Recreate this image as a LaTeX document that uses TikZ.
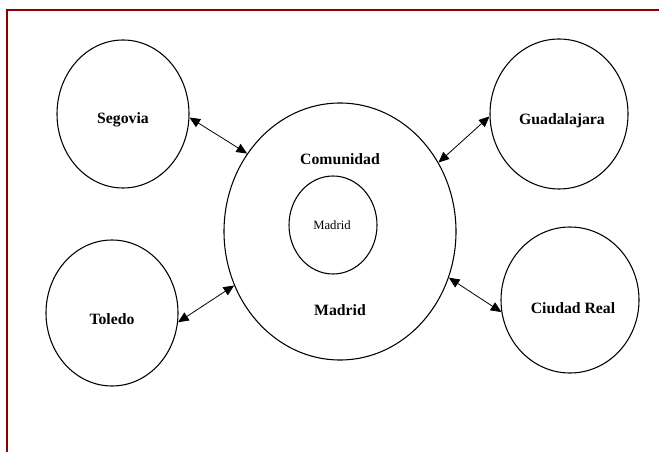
\documentclass[tikz,border=0pt]{standalone}
\usepackage{fontspec}
\setmainfont{Liberation Serif}
\usetikzlibrary{shapes.geometric,arrows.meta}
\definecolor{framered}{RGB}{139,0,0}
\tikzset{
  region/.style={draw=black, line width=0.8pt, ellipse, inner sep=0pt},
  lab/.style={font=\fontsize{11.8}{13}\selectfont\bfseries, inner sep=0pt},
  smalllab/.style={font=\fontsize{9.5}{11}\selectfont, inner sep=0pt},
  link/.style={line width=0.6pt, {Triangle[length=8pt,width=7pt]}-{Triangle[length=8pt,width=7pt]}}
}
\begin{document}
\begin{tikzpicture}[x=0.75pt,y=-0.75pt]
\useasboundingbox (0,0) rectangle (659,452);
\clip (0,0) rectangle (659,452);
\fill[white] (0,0) rectangle (659,452);
\draw[framered, line width=1.6pt] (680,10) -- (7,10) -- (7,480);
% regions
\node[region, minimum width=99pt, minimum height=111pt] (seg) at (123,114) {};
\node[region, minimum width=99pt, minimum height=109.5pt] (tol) at (112,313) {};
\node[region, minimum width=103.5pt, minimum height=112.5pt] (gua) at (559,114) {};
\node[region, minimum width=103.5pt, minimum height=109.5pt] (ciu) at (570,300) {};
\node[region, minimum width=174pt, minimum height=192.75pt] (com) at (340,231.5) {};
\node[region, minimum width=66pt, minimum height=73.5pt] (mad) at (333,225) {};
% labels
\node[lab] (tseg) at (123,120) {Segovia};
\node[lab] (ttol) at (112,319) {Toledo};
\node[lab] (tgua) at (562,121) {Guadalajara};
\node[lab] (tciu) at (573,308) {Ciudad Real};
\node[lab] (tcom1) at (340,159) {Comunidad};
\node[lab] (tcom2) at (340,310) {Madrid};
\node[smalllab] (tmad) at (332,225) {Madrid};
% connectors
\draw[link] (seg.-3) -- (com.140.7);
\draw[link] (gua.182) -- (com.35.8);
\draw[link] (tol.-8.4) -- (com.207.8);
\draw[link] (ciu.190) -- (com.-23.2);
\end{tikzpicture}
\end{document}
